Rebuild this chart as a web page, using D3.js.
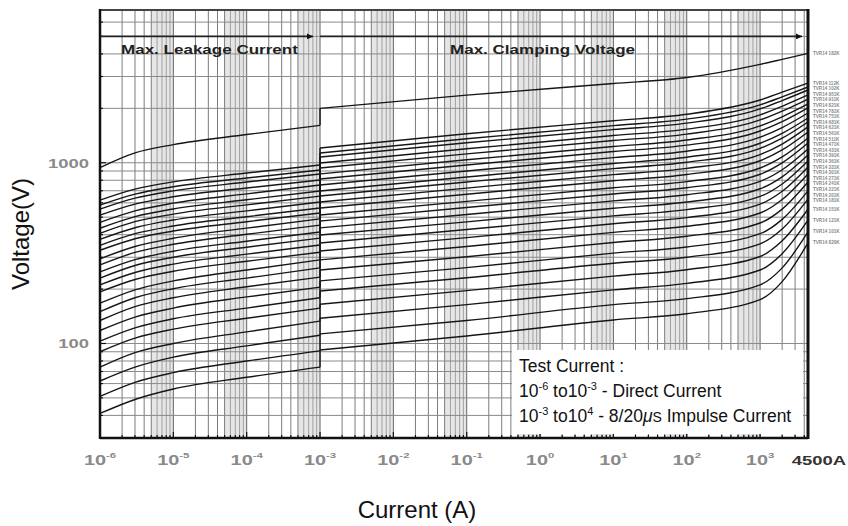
<!DOCTYPE html>
<html><head><meta charset="utf-8">
<script src="https://cdn.jsdelivr.net/npm/d3@7"></script>
<style>html,body{margin:0;padding:0;background:#fff;} svg{display:block;font-family:"Liberation Sans",Arial,sans-serif;}</style>
</head><body><svg id="c" width="848" height="526"></svg>
<script>
// ---------------- data ----------------
const currentsLeft  = [1e-6, 3e-6, 1e-5, 1e-4, 1e-3];           // DC leakage region (A)
const currentsRight = [1e-3, 1e-1, 10, 100, 1000, 2000, 4500];  // 8/20us clamping region (A)

const partNames = ["182K","112K","102K","951K","911K","821K","781K","751K","681K","621K","561K","511K","471K",
  "431K","391K","361K","331K","301K","271K","241K","221K","201K","181K","151K","121K","101K","820K"];

const leakageV = [
  [940,1134,1260,1432,1610],
  [621,714,784,877,971],
  [583,670,736,823,911],
  [554,637,699,782,866],
  [513,590,648,725,803],
  [468,542,598,673,753],
  [434,503,555,624,698],
  [407,472,520,585,654],
  [377,437,482,542,606],
  [349,405,447,503,562],
  [328,380,419,472,527],
  [294,344,382,435,489],
  [272,319,354,402,452],
  [249,291,324,368,414],
  [230,270,300,341,383],
  [211,247,275,312,351],
  [193,226,251,285,320],
  [167,198,222,255,290],
  [150,179,201,230,262],
  [134,160,179,206,233],
  [118,140,157,181,205],
  [103,122,137,157,179],
  [90,107,120,138,157],
  [74,89,100,116,133],
  [62,74,84,97,111],
  [51,61,69,80,91],
  [41,49,56,65,74]
];

const clampV = [
  [2000,2366,2742,2962,3504,3734,4030],
  [1206,1447,1708,1855,2225,2458,2760],
  [1132,1358,1604,1742,2090,2316,2625],
  [1076,1290,1526,1656,1986,2209,2526],
  [997,1195,1414,1535,1840,2053,2371],
  [935,1120,1327,1440,1725,1931,2252],
  [867,1038,1230,1335,1599,1795,2115],
  [813,972,1154,1251,1498,1687,2009],
  [753,901,1068,1158,1385,1566,1885],
  [698,834,990,1073,1282,1455,1769],
  [655,782,928,1006,1201,1367,1681],
  [607,724,860,931,1110,1269,1578],
  [562,669,795,861,1026,1177,1480],
  [514,611,727,786,935,1077,1371],
  [476,565,672,727,864,999,1286],
  [436,517,615,665,789,915,1193],
  [398,471,560,606,718,836,1103],
  [360,427,508,550,651,763,1023],
  [325,385,460,497,590,695,948],
  [290,344,412,445,527,626,867],
  [255,302,362,392,464,554,782],
  [222,263,316,342,405,486,699],
  [195,231,278,300,356,430,629],
  [165,196,236,256,303,370,553],
  [138,164,198,215,255,314,481],
  [113,134,164,177,211,262,414],
  [92,110,135,146,175,220,360]
];

const xTickValues = [1e-6,1e-5,1e-4,1e-3,1e-2,1e-1,1,10,100,1000];
const xTickExps   = ["-6","-5","-4","-3","-2","-1","0","1","2","3"];
const yTickValues = [100, 1000];
const yTickLabels = ["100", "1000"];
const maxCurrent = 4500;
const maxCurrentLabel = "4500A";
const regionSplit = 1e-3;
const arrowVoltage = 5000;

// ---------------- chart ----------------
const svg = d3.select('#c');
const X0 = 100, X1 = 808, Y0 = 10, Y1 = 438;
const x = d3.scaleLog().domain([1e-6, maxCurrent]).range([X0, X1]);
const y = d3.scaleLog().domain([30, 7000]).range([Y1, Y0]);

// shaded bands (dense minor grid look)
const decades = d3.range(-6, 4);
const gb = svg.append('g');
decades.forEach(d => {
  const a = 5 * Math.pow(10, d), b = Math.min(Math.pow(10, d + 1), maxCurrent);
  if (a < maxCurrent) gb.append('rect').attr('x', x(a)).attr('y', Y0)
      .attr('width', x(b) - x(a)).attr('height', Y1 - Y0).attr('fill', '#e6e6e6');
});

// vertical grid
const gx = [];
decades.forEach(d => { for (let m = 1; m <= 9; m++) { const v = m * Math.pow(10, d); if (v <= maxCurrent) gx.push([v, m]); } });
svg.append('g').selectAll('line').data(gx).join('line')
  .attr('x1', d => x(d[0])).attr('x2', d => x(d[0])).attr('y1', Y0).attr('y2', Y1)
  .attr('stroke', d => d[1] === 1 ? '#666' : (d[1] >= 6 ? '#a0a0a0' : '#7c7c7c'))
  .attr('stroke-width', 1);

// horizontal grid
const gy = [];
[1, 2, 3].forEach(d => { for (let m = 1; m <= 9; m++) { const v = m * Math.pow(10, d); if (v >= 30 && v <= 7000) gy.push(v); } });
svg.append('g').selectAll('line').data(gy).join('line')
  .attr('x1', X0).attr('x2', X1).attr('y1', d => y(d)).attr('y2', d => y(d))
  .attr('stroke', '#8a8a8a').attr('stroke-width', 1);

// ticks inward
const tk = svg.append('g').attr('stroke', '#111');
gx.forEach(d => tk.append('line').attr('x1', x(d[0])).attr('x2', x(d[0]))
  .attr('y1', Y1).attr('y2', Y1 - (d[1] === 1 ? 6 : 3)).attr('stroke-width', 1.2));
gy.forEach(v => tk.append('line').attr('x1', X0).attr('x2', X0 + (String(v)[0] === '1' ? 6 : 3))
  .attr('y1', y(v)).attr('y2', y(v)).attr('stroke-width', 1.2));

// curves
const line = d3.line().x(d => x(d[0])).y(d => y(d[1])).curve(d3.curveMonotoneX);
const gc = svg.append('g').attr('fill', 'none').attr('stroke', '#161616').attr('stroke-width', 1.4);
leakageV.forEach((lv, i) => {
  const cv = clampV[i];
  gc.append('path').attr('d', line(currentsLeft.map((c, k) => [c, lv[k]])));
  gc.append('path').attr('d', line(currentsRight.map((c, k) => [c, cv[k]])));
  gc.append('line').attr('x1', x(regionSplit)).attr('x2', x(regionSplit))
    .attr('y1', y(lv[lv.length - 1])).attr('y2', y(cv[0]));
});

// arrows
const defs = svg.append('defs');
defs.append('marker').attr('id', 'ah').attr('viewBox', '0 0 10 10').attr('refX', 10).attr('refY', 5)
  .attr('markerWidth', 8).attr('markerHeight', 6).attr('markerUnits', 'userSpaceOnUse').attr('orient', 'auto')
  .append('path').attr('d', 'M0,0L10,5L0,10Z').attr('fill', '#111');
svg.append('line').attr('x1', X0).attr('x2', x(regionSplit) - 7).attr('y1', y(arrowVoltage)).attr('y2', y(arrowVoltage))
  .attr('stroke', '#222').attr('stroke-width', 1.6).attr('marker-end', 'url(#ah)');
svg.append('line').attr('x1', x(regionSplit)).attr('x2', X1 - 6).attr('y1', y(arrowVoltage)).attr('y2', y(arrowVoltage))
  .attr('stroke', '#222').attr('stroke-width', 1.6).attr('marker-end', 'url(#ah)');

// region titles
function stretchedText(tx, ty, txt, opts) {
  const g = svg.append('g').attr('transform', `translate(${tx},${ty}) scale(1.42,1)`);
  return g.append('text').attr('text-anchor', opts.anchor || 'start').attr('font-size', opts.size)
    .attr('font-weight', opts.weight || 'bold').attr('fill', opts.fill || '#222').text(txt);
}
stretchedText(121, 54, 'Max. Leakage Current', {size: 12});
stretchedText(450, 54, 'Max. Clamping Voltage', {size: 12});

// frame
svg.append('line').attr('x1', X0).attr('x2', X1).attr('y1', Y0).attr('y2', Y0).attr('stroke', '#444').attr('stroke-width', 2);
svg.append('line').attr('x1', X0).attr('x2', X1).attr('y1', Y1).attr('y2', Y1).attr('stroke', '#111').attr('stroke-width', 2.5);
svg.append('line').attr('x1', X0).attr('x2', X0).attr('y1', Y0 - 1).attr('y2', Y1 + 1).attr('stroke', '#111').attr('stroke-width', 2.5);
svg.append('line').attr('x1', X1).attr('x2', X1).attr('y1', Y0 - 1).attr('y2', Y1 + 1).attr('stroke', '#111').attr('stroke-width', 3);

// x tick labels
xTickValues.forEach((v, i) => {
  const g = svg.append('g').attr('transform', `translate(${x(v)},465) scale(1.42,1)`);
  const t = g.append('text').attr('text-anchor', 'middle').attr('font-size', 14).attr('font-weight', 'bold').attr('fill', '#8a8a8a');
  t.append('tspan').text('10');
  t.append('tspan').attr('dy', -7).attr('font-size', 8).text(xTickExps[i]);
});
stretchedText(x(maxCurrent) + 11, 465, maxCurrentLabel, {size: 13, anchor: 'middle', fill: '#333'});

// y tick labels
yTickValues.forEach((v, i) => {
  stretchedText(89, y(v) + 5, yTickLabels[i], {size: 13, anchor: 'end', fill: '#8a8a8a'});
});

// part labels at right end
const ends = clampV.map((cv, i) => ({i, yy: y(cv[cv.length - 1])})).sort((a, b) => a.yy - b.yy);
for (let k = 1; k < ends.length; k++) if (ends[k].yy < ends[k - 1].yy + 5.6) ends[k].yy = ends[k - 1].yy + 5.6;
svg.append('g').selectAll('text').data(ends).join('text')
  .attr('x', X1 + 5).attr('y', d => d.yy + 1.5).attr('font-size', 4.6).attr('font-weight', 'bold')
  .attr('fill', '#888').text(d => 'TVR14 ' + partNames[d.i]);

// Test current legend box
const bx = 512, by = 350;
svg.append('rect').attr('x', bx).attr('y', by).attr('width', 291).attr('height', 84).attr('fill', '#fff');
const tg = svg.append('g').attr('font-size', 17.5).attr('fill', '#111');
tg.append('text').attr('x', bx + 7).attr('y', by + 22).text('Test Current :');
const t2 = tg.append('text').attr('x', bx + 7).attr('y', by + 47);
t2.append('tspan').text('10');
t2.append('tspan').attr('dy', -7).attr('font-size', 11).text('-6');
t2.append('tspan').attr('dy', 7).text(' to10');
t2.append('tspan').attr('dy', -7).attr('font-size', 11).text('-3');
t2.append('tspan').attr('dy', 7).text(' - Direct Current');
const t3 = tg.append('text').attr('x', bx + 7).attr('y', by + 72);
t3.append('tspan').text('10');
t3.append('tspan').attr('dy', -7).attr('font-size', 11).text('-3');
t3.append('tspan').attr('dy', 7).text(' to10');
t3.append('tspan').attr('dy', -7).attr('font-size', 11).text('4');
t3.append('tspan').attr('dy', 7).text(' - 8/20');
t3.append('tspan').attr('font-style', 'italic').text('μ');
t3.append('tspan').attr('font-size', 14).text('S');
t3.append('tspan').text(' Impulse Current');

// axis titles
svg.append('text').attr('x', 417).attr('y', 518).attr('text-anchor', 'middle').attr('font-size', 24).attr('fill', '#111').text('Current (A)');
svg.append('text').attr('transform', 'translate(29,234) rotate(-90)').attr('text-anchor', 'middle').attr('font-size', 24).attr('fill', '#111').text('Voltage(V)');
</script></body></html>
